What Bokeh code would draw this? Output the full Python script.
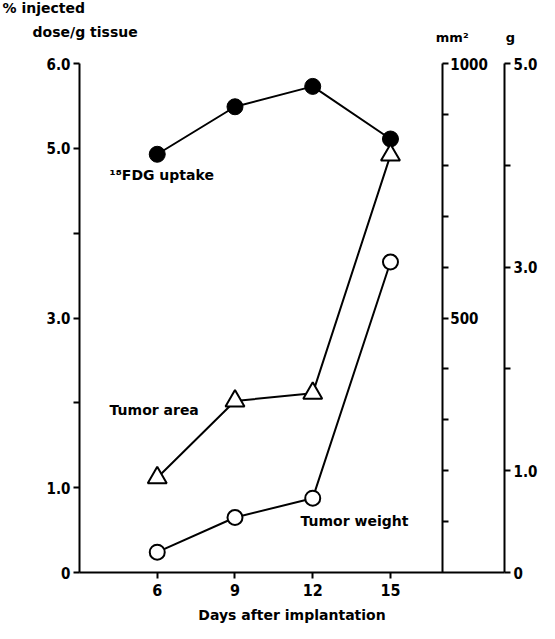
from bokeh.plotting import figure
from bokeh.models import (LinearAxis, Range1d, FixedTicker, Label, ColumnDataSource)
from bokeh.embed import file_html
from bokeh.resources import INLINE

# ---- data ----
days = [6, 9, 12, 15]
fdg_uptake = [4.93, 5.49, 5.73, 5.11]          # % injected dose / g tissue
tumor_area_mm2 = [186, 337, 352, 820]          # mm²
tumor_weight_g = [0.20, 0.54, 0.73, 3.05]      # g

x_ticks = [6, 9, 12, 15]
left_ticks = [0, 1, 2, 3, 4, 5, 6]
left_labels = ["0", "1.0", "", "3.0", "", "5.0", "6.0"]
mm2_ticks = [100, 200, 300, 400, 500, 600, 700, 800, 900, 1000]
mm2_labels = ["", "", "", "", "500", "", "", "", "", "1000"]
g_ticks = [0, 1, 2, 3, 4, 5]
g_labels = ["0", "1.0", "", "3.0", "", "5.0"]

NUM_FONT = "'DejaVu Sans Condensed', Roboto, sans-serif"
TXT_FONT = "DejaVu Sans"

# plotting region (data units); axes are drawn at fixed locations inside it
X0, X1 = 3, 19.4          # left axis ... g axis
XM = 17                    # mm² axis position
Y0, Y1 = 0, 6
W, H = 539, 623
fx0, fx1 = 79, 504         # pixel columns of X0 / X1 inside the figure
fy_top, fy_bot = 63, 572   # pixel rows of Y1 / Y0 inside the figure
sx = (fx1 - fx0) / (X1 - X0)
sy = (fy_bot - fy_top) / (Y1 - Y0)
xr = Range1d(X0 - fx0 / sx, X1 + (W - fx1) / sx)
y_lo = Y0 - (H - fy_bot) / sy
y_hi = Y1 + fy_top / sy
yr = Range1d(y_lo, y_hi)

p = figure(width=W, height=H, output_backend="svg", toolbar_location=None,
           x_range=xr, y_range=yr, x_axis_location=None, y_axis_location=None,
           min_border=0)
p.outline_line_color = None
p.background_fill_color = "white"
p.border_fill_color = "white"
p.grid.visible = False

p.extra_y_ranges = {
    "mm2": Range1d(y_lo * 1000 / 6, y_hi * 1000 / 6),
    "g": Range1d(y_lo * 5 / 6, y_hi * 5 / 6),
}

def style_axis(ax, size="15px"):
    ax.axis_line_width = 2
    ax.axis_line_color = "black"
    ax.major_tick_line_width = 2
    ax.major_tick_line_color = "black"
    ax.major_tick_out = 6
    ax.major_tick_in = 0
    ax.minor_tick_line_color = None
    ax.major_label_text_font = NUM_FONT
    ax.major_label_text_font_style = "bold"
    ax.major_label_text_font_size = size
    ax.major_label_text_color = "black"

# left axis
yax = LinearAxis(fixed_location=X0, ticker=FixedTicker(ticks=left_ticks), bounds=(0, 6))
style_axis(yax)
yax.major_label_overrides = {t: l for t, l in zip(left_ticks, left_labels)}
yax.major_label_standoff = 3
p.add_layout(yax, "left")

# bottom axis
xax = LinearAxis(fixed_location=Y0, ticker=FixedTicker(ticks=x_ticks), bounds=(X0, X1))
style_axis(xax, "16px")
xax.major_label_standoff = 5
xax.axis_label = "Days after implantation"
xax.axis_label_text_font = TXT_FONT
xax.axis_label_text_font_style = "bold"
xax.axis_label_text_font_size = "14px"
xax.axis_label_standoff = 8
xax.axis_label_text_color = "black"
p.add_layout(xax, "below")

# mm² axis
ax_mm2 = LinearAxis(y_range_name="mm2", fixed_location=XM,
                    ticker=FixedTicker(ticks=mm2_ticks), bounds=(0, 1000))
style_axis(ax_mm2)
ax_mm2.major_label_overrides = {t: l for t, l in zip(mm2_ticks, mm2_labels)}
ax_mm2.major_label_standoff = 2
p.add_layout(ax_mm2, "right")

# g axis
ax_g = LinearAxis(y_range_name="g", fixed_location=X1,
                  ticker=FixedTicker(ticks=g_ticks), bounds=(0, 5))
style_axis(ax_g)
ax_g.major_label_overrides = {t: l for t, l in zip(g_ticks, g_labels)}
ax_g.major_label_standoff = 3
p.add_layout(ax_g, "right")

# ---- series ----
src_fdg = ColumnDataSource(dict(x=days, y=fdg_uptake))
src_area = ColumnDataSource(dict(x=days, y=tumor_area_mm2))
src_w = ColumnDataSource(dict(x=days, y=tumor_weight_g))

p.line("x", "y", source=src_fdg, line_color="black", line_width=2)
p.scatter("x", "y", source=src_fdg, marker="circle", size=16,
          fill_color="black", line_color="black")

p.line("x", "y", source=src_area, y_range_name="mm2", line_color="black", line_width=2)
p.scatter("x", "y", source=src_area, y_range_name="mm2", marker="triangle", size=19,
          fill_color="white", line_color="black", line_width=2)

p.line("x", "y", source=src_w, y_range_name="g", line_color="black", line_width=2)
p.scatter("x", "y", source=src_w, y_range_name="g", marker="circle", size=15,
          fill_color="white", line_color="black", line_width=2)

# ---- texts ----
def txt(x, y, s, size="14px", font=TXT_FONT):
    p.add_layout(Label(x=x, y=y, text=s, text_font=font, text_font_style="bold",
                       text_font_size=size, text_color="black",
                       text_align="left", text_baseline="middle"))

txt(0.03, 6.66, "% injected")
txt(1.19, 6.37, "dose/g tissue")
txt(16.75, 6.31, "mm²", "13px")
txt(19.45, 6.31, "g", "13px")
txt(4.16, 4.69, "¹⁸FDG uptake")
txt(4.16, 1.92, "Tumor area")
txt(11.53, 0.61, "Tumor weight")

open("out.html", "w").write(file_html(p, INLINE))
